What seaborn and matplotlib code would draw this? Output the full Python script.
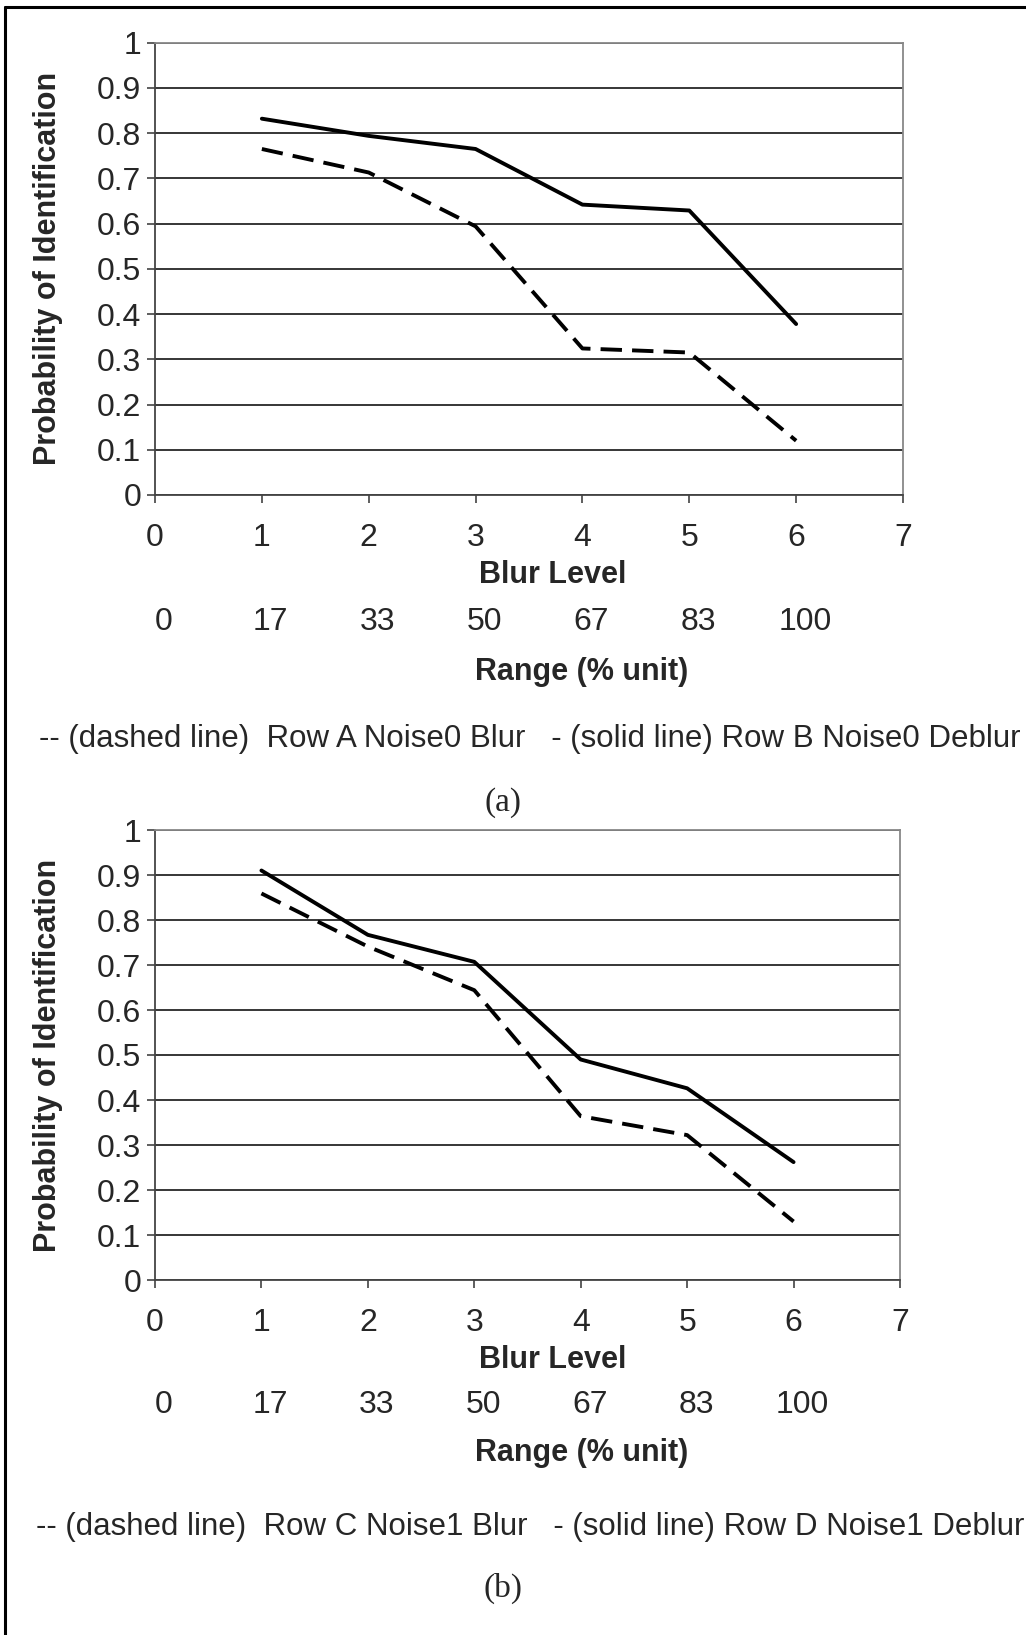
import numpy as np
import pandas as pd
import matplotlib
matplotlib.use("Agg")
import matplotlib.pyplot as plt
from matplotlib.lines import Line2D
import seaborn as sns

# data
blur_level = [1, 2, 3, 4, 5, 6]
x_ticks = [0, 1, 2, 3, 4, 5, 6, 7]
range_labels = ["0", "17", "33", "50", "67", "83", "100"]

a_dashed = [0.765, 0.713, 0.594, 0.324, 0.315, 0.120]   # Row A Noise0 Blur
a_solid = [0.832, 0.794, 0.765, 0.642, 0.629, 0.378]    # Row B Noise0 Deblur
b_dashed = [0.859, 0.741, 0.644, 0.364, 0.322, 0.130]   # Row C Noise1 Blur
b_solid = [0.910, 0.767, 0.707, 0.490, 0.426, 0.262]    # Row D Noise1 Deblur

legend_a = "-- (dashed line)  Row A Noise0 Blur   - (solid line) Row B Noise0 Deblur"
legend_b = "-- (dashed line)  Row C Noise1 Blur   - (solid line) Row D Noise1 Deblur"

sns.set_style("white")
plt.rcParams['font.family'] = ['Liberation Sans', 'DejaVu Sans']

W, H = 1026, 1635
fig = plt.figure(figsize=(W / 100, H / 100), dpi=100)


def fx(px):
    return px / W


def fy(py):
    return 1 - py / H


def draw_panel(left, right, top, bottom, dashed, solid):
    ax = fig.add_axes([fx(left), fy(bottom), fx(right - left), fy(top) - fy(bottom)])
    df = pd.DataFrame({"blur": blur_level, "dashed": dashed, "solid": solid})
    sns.lineplot(data=df, x="blur", y="dashed", ax=ax, color="black", lw=2.8,
                 linestyle=(0, (5.5, 2.6)))
    sns.lineplot(data=df, x="blur", y="solid", ax=ax, color="black", lw=2.8)
    ax.set_xlim(0, 7)
    ax.set_ylim(0, 1)
    yt = np.round(np.arange(0, 1.01, 0.1), 1)
    ax.set_xticks(x_ticks)
    ax.set_yticks(yt)
    ax.set_yticklabels([f"{v:g}" for v in yt])
    ax.yaxis.grid(True, color="black", lw=1.1)
    ax.set_axisbelow(True)
    ax.tick_params(axis="both", direction="out", length=6, width=1.1, color="#333333",
                   labelsize=23, bottom=True, left=True)
    ax.tick_params(axis="x", pad=14)
    ax.tick_params(axis="y", pad=4)
    for s in ["top", "right"]:
        ax.spines[s].set_color("#888888")
        ax.spines[s].set_linewidth(1.3)
    for s in ["left", "bottom"]:
        ax.spines[s].set_color("#444444")
        ax.spines[s].set_linewidth(1.3)
    w = right - left
    ax.set_xlabel("Blur Level", fontsize=22, fontweight="bold")
    ax.xaxis.label.set_va("center")
    ax.xaxis.set_label_coords((553 - left) / w, -(575 - 495) / 452.3)
    ax.set_ylabel("Probability of Identification", fontsize=22, fontweight="bold")
    ax.yaxis.set_label_coords((63 - left) / w, 0.5)
    return ax


def draw_footer(ax, y_range, y_rlabel, y_legend, y_cap, legend, cap):
    for i, lab in enumerate(range_labels):
        xp = ax.transData.transform((x_ticks[i], 0))[0] + 9
        fig.text(xp / W, fy(y_range), lab, ha="center", va="center", fontsize=23)
    fig.text(fx(582), fy(y_rlabel), "Range (% unit)", ha="center", va="center",
             fontsize=22, fontweight="bold")
    fig.text(fx(530), fy(y_legend), legend, ha="center", va="center", fontsize=22.5)
    fig.text(fx(503), fy(y_cap), cap, ha="center", va="center", fontsize=24,
             family=["Liberation Serif", "DejaVu Serif"])


ax1 = draw_panel(155, 903, 42.7, 495, a_dashed, a_solid)
ax2 = draw_panel(155, 900, 830, 1280, b_dashed, b_solid)

draw_footer(ax1, 622, 672, 739, 803, legend_a, "(a)")
draw_footer(ax2, 1405, 1453, 1527, 1588, legend_b, "(b)")

# page frame (left and top edges)
fig.add_artist(Line2D([fx(5), fx(5)], [0, fy(7)], color="black", lw=2.2))
fig.add_artist(Line2D([fx(5), 1], [fy(7), fy(7)], color="black", lw=2.2))

fig.savefig("out.png", dpi=100, facecolor="white")
